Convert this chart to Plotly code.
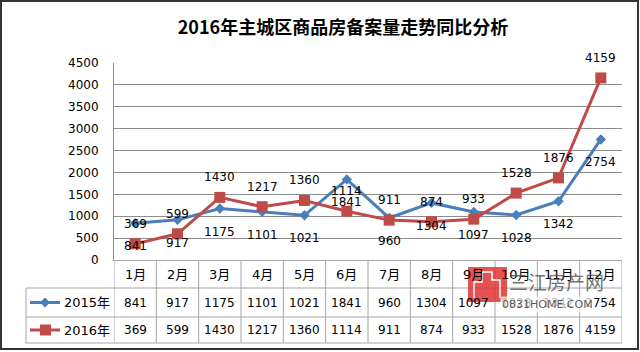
import plotly.graph_objects as go

# ---------------- data ----------------
months = ["1月", "2月", "3月", "4月", "5月", "6月", "7月", "8月", "9月", "10月", "11月", "12月"]
series_names = ["2015年", "2016年"]
s2015 = [841, 917, 1175, 1101, 1021, 1841, 960, 1304, 1097, 1028, 1342, 2754]
s2016 = [369, 599, 1430, 1217, 1360, 1114, 911, 874, 933, 1528, 1876, 4159]
y_ticks = [0, 500, 1000, 1500, 2000, 2500, 3000, 3500, 4000, 4500]
title_text = "2016年主城区商品房备案量走势同比分析"

# ---------------- layout geometry ----------------
W, H = 640, 352
L, R, T, B = 114, 18, 63, 92
PW, PH = W - L - R, H - T - B

def pxx(p):
    return (p - L) / PW

def pxy(p):
    return (H - B - p) / PH

BLUE = "#4a7ebb"
RED = "#be4b48"
GRID = "#8c8c8c"
TAB = "#a6a6a6"
FONT = "DejaVu Sans, Noto Sans CJK SC"

fig = go.Figure()
fig.add_trace(go.Scatter(x=months, y=s2015, name=series_names[0], mode="lines+markers",
                         line=dict(color=BLUE, width=3),
                         marker=dict(symbol="diamond", size=8, color=BLUE),
                         hoverinfo="skip", showlegend=False))
fig.add_trace(go.Scatter(x=months, y=s2016, name=series_names[1], mode="lines+markers",
                         line=dict(color=RED, width=3),
                         marker=dict(symbol="square", size=11, color=RED),
                         hoverinfo="skip", showlegend=False))

annotations = []
# data labels
for i, m in enumerate(months):
    annotations.append(dict(x=m, y=s2016[i], xref="x", yref="y", text=str(s2016[i]),
                            showarrow=False, yshift=20, yanchor="middle",
                            font=dict(family=FONT, size=12, color="#000")))
    annotations.append(dict(x=m, y=s2015[i], xref="x", yref="y", text=str(s2015[i]),
                            showarrow=False, yshift=-23, yanchor="middle",
                            font=dict(family=FONT, size=12, color="#000")))

# data table
row_cat, row_a, row_b = 274, 302.5, 330
for i, m in enumerate(months):
    annotations.append(dict(x=m, y=pxy(row_cat), xref="x", yref="paper", text=m, showarrow=False,
                            xanchor="center", yanchor="middle",
                            font=dict(family=FONT, size=13, color="#000")))
    annotations.append(dict(x=m, y=pxy(row_a), xref="x", yref="paper", text=str(s2015[i]), showarrow=False,
                            xanchor="center", yanchor="middle",
                            font=dict(family=FONT, size=12, color="#000")))
    annotations.append(dict(x=m, y=pxy(row_b), xref="x", yref="paper", text=str(s2016[i]), showarrow=False,
                            xanchor="center", yanchor="middle",
                            font=dict(family=FONT, size=12, color="#000")))
for name, yy in zip(series_names, [row_a, row_b]):
    annotations.append(dict(x=pxx(62), y=pxy(yy), xref="paper", yref="paper", text=name, showarrow=False,
                            xanchor="left", yanchor="middle",
                            font=dict(family=FONT, size=13, color="#000")))

shapes = []
n = len(months)
# table grid
for yy in [288, 317, 343]:
    shapes.append(dict(type="line", xref="paper", yref="paper", x0=pxx(26), x1=pxx(L + PW),
                       y0=pxy(yy), y1=pxy(yy), line=dict(color=TAB, width=1)))
for k in range(n + 1):
    shapes.append(dict(type="line", xref="x", yref="paper", x0=k - 0.5, x1=k - 0.5,
                       y0=pxy(260), y1=pxy(343), line=dict(color=TAB, width=1)))
shapes.append(dict(type="line", xref="paper", yref="paper", x0=pxx(26), x1=pxx(26),
                   y0=pxy(288), y1=pxy(343), line=dict(color=TAB, width=1)))
# legend keys
shapes.append(dict(type="line", xref="paper", yref="paper", x0=pxx(30), x1=pxx(60),
                   y0=pxy(row_a), y1=pxy(row_a), line=dict(color=BLUE, width=3)))
shapes.append(dict(type="path", xref="paper", yref="paper",
                   path=f"M {pxx(40)},{pxy(row_a)} L {pxx(45)},{pxy(row_a-5)} L {pxx(50)},{pxy(row_a)} L {pxx(45)},{pxy(row_a+5)} Z",
                   fillcolor=BLUE, line=dict(color=BLUE, width=0)))
shapes.append(dict(type="line", xref="paper", yref="paper", x0=pxx(30), x1=pxx(60),
                   y0=pxy(row_b), y1=pxy(row_b), line=dict(color=RED, width=3)))
shapes.append(dict(type="rect", xref="paper", yref="paper", x0=pxx(40), x1=pxx(51),
                   y0=pxy(row_b - 5.5), y1=pxy(row_b + 5.5), fillcolor=RED, line=dict(width=0)))
# outer border
shapes.append(dict(type="rect", xref="paper", yref="paper", x0=pxx(1), x1=pxx(638),
                   y0=pxy(1), y1=pxy(349), line=dict(color="#333", width=2), layer="above"))
# watermark (logo + text)
shapes.append(dict(type="rect", xref="paper", yref="paper", x0=pxx(468), x1=pxx(507),
                   y0=pxy(267), y1=pxy(302), fillcolor="rgba(226,50,50,0.85)", line=dict(width=0),
                   layer="above"))
shapes.append(dict(type="path", xref="paper", yref="paper",
                   path=f"M {pxx(474)},{pxy(298)} L {pxx(474)},{pxy(282)} L {pxx(482)},{pxy(282)} L {pxx(482)},{pxy(272)} L {pxx(492)},{pxy(272)} L {pxx(492)},{pxy(280)} L {pxx(500)},{pxy(280)} L {pxx(500)},{pxy(298)}",
                   line=dict(color="white", width=1.5), layer="above"))
annotations.append(dict(x=pxx(507), y=pxy(281), xref="paper", yref="paper", text="三江房产网",
                        showarrow=False, xanchor="left", yanchor="middle",
                        font=dict(family="Noto Sans CJK SC", size=19, color="rgba(70,70,70,0.75)")))
annotations.append(dict(x=pxx(500), y=pxy(304), xref="paper", yref="paper", text="0831HOME.COM",
                        showarrow=False, xanchor="left", yanchor="middle", bgcolor="rgba(255,255,255,0.7)",
                        font=dict(family=FONT, size=11, color="rgba(60,60,60,0.85)")))

fig.update_layout(
    width=W, height=H, margin=dict(l=L, r=R, t=T, b=B),
    paper_bgcolor="white", plot_bgcolor="white",
    title=dict(text=title_text, x=343 / W, xanchor="center", y=1 - 28 / H, yanchor="middle",
               yref="container", font=dict(family="Noto Sans CJK SC", size=18, color="#000", weight="bold")),
    xaxis=dict(type="category", categoryorder="array", categoryarray=months, range=[-0.5, n - 0.5],
               showticklabels=False, showgrid=False, zeroline=False, showline=True,
               linecolor=TAB, linewidth=1, ticks=""),
    yaxis=dict(range=[0, 4500], tickvals=y_ticks, showgrid=True, gridcolor=GRID, gridwidth=1,
               zeroline=False, showline=True, linecolor=GRID, linewidth=1, ticks="",
               ticklabelstandoff=12, tickfont=dict(family=FONT, size=12, color="#000")),
    shapes=shapes, annotations=annotations, showlegend=False,
)

fig.write_html("out.html")
